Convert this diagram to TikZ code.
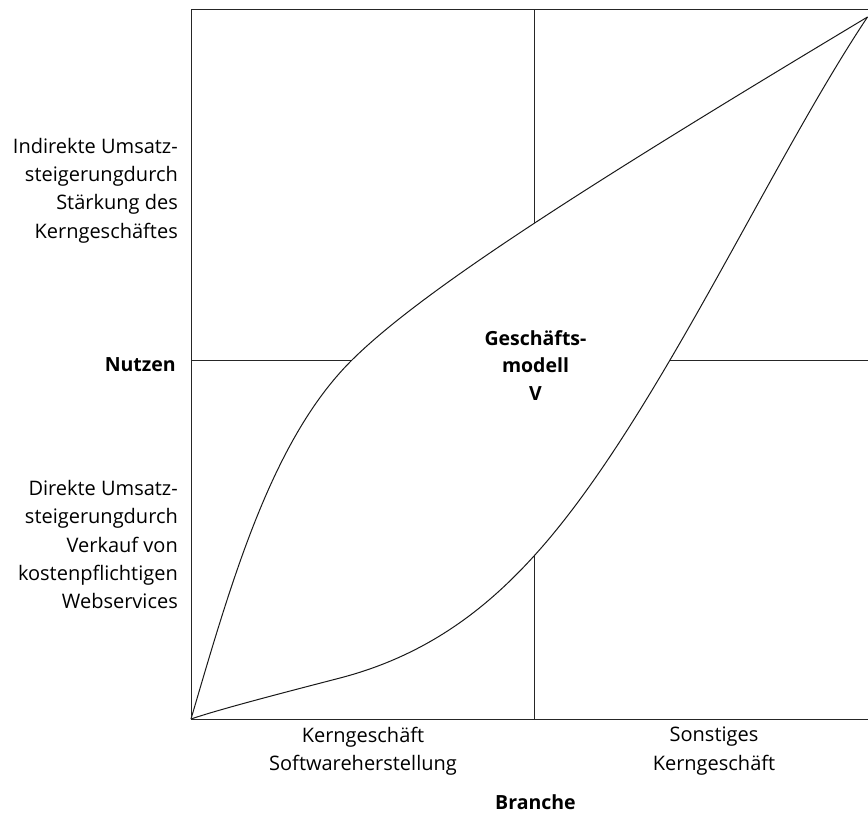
\documentclass[tikz,border=0pt]{standalone}
\usepackage{fontspec}
\setmainfont{Open Sans}
\begin{document}
\begin{tikzpicture}[x=1pt,y=-1pt,
  lbl/.style={font=\fontsize{20}{28.3}\selectfont, inner sep=0pt},
  lblr/.style={lbl, align=right, anchor=north east},
  lblc/.style={lbl, align=center, anchor=north},
  bold/.style={inner sep=0pt, font=\fontsize{19.5}{27.3}\selectfont\bfseries, align=center},
  frame/.style={line width=1pt, draw=black!85},
  curve/.style={line width=1pt, draw=black!90, line join=round}]
\useasboundingbox (0,0) rectangle (868,817);
% frame
\coordinate (tl) at (191,9.5);
\coordinate (tr) at (868,9.5);
\coordinate (bl) at (191,719);
\coordinate (br) at (868,719);
\coordinate (apex) at (867.5,17);
\coordinate (mt) at (534.5,9.5);
\coordinate (mb) at (534.5,719);
\coordinate (ml) at (191,360.5);
\coordinate (mr) at (868,360.5);
\coordinate (up) at (351,361);
\coordinate (lo1) at (340,678);
\coordinate (lo2) at (534,556);
\draw[frame] (tr) -- (tl) -- (bl) -- (br);
\draw[frame] (mt) -- (mb);
\draw[frame] (ml) -- (mr);
% lens between the curves hides the middle lines
\fill[white] (bl) .. controls (231,583) and (271,441) .. (up)
  .. controls (421,291) and (587.5,185) .. (apex)
  .. controls (767.5,167) and (654,424) .. (lo2)
  .. controls (489,605.5) and (430,654.6) .. (lo1)
  .. controls (290,691) and (220,709) .. (bl) -- cycle;
% curves
\draw[curve] (bl) .. controls (231,583) and (271,441) .. (up)
  .. controls (421,291) and (587.5,185) .. (apex);
\draw[curve] (bl) .. controls (220,709) and (290,691) .. (lo1)
  .. controls (430,654.6) and (489,605.5) .. (lo2)
  .. controls (654,424) and (767.5,167) .. (apex);
% labels
\node[lblr] (ind) at (178,138) {Indirekte Umsatz-\\steigerungdurch\\Stärkung des\\Kerngeschäftes};
\node[bold, anchor=base east] (nutzen) at (176,371) {Nutzen};
\node[lblr] (dir) at (178,480) {Direkte Umsatz-\\steigerungdurch\\Verkauf von\\kostenpflichtigen\\Webservices};
\node[lblc] (k1) at (363,727) {Kerngeschäft\\Softwareherstellung};
\node[lblc] (k2) at (714,727) {Sonstiges\\Kerngeschäft};
\node[bold, anchor=base] (branche) at (535.5,809) {Branche};
\node[bold, anchor=north] (gm) at (535.5,330.5) {Geschäfts-\\modell\\V};
\end{tikzpicture}
\end{document}
